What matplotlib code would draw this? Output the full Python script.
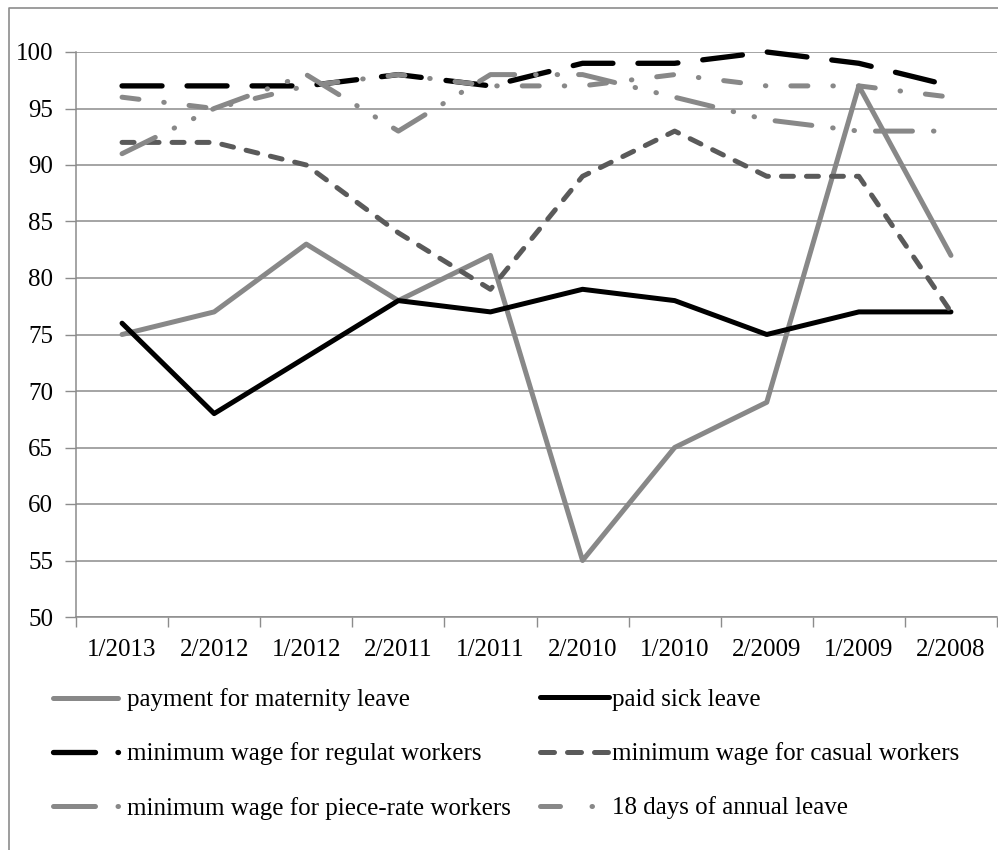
import matplotlib
matplotlib.use('Agg')
import matplotlib.pyplot as plt
from matplotlib.lines import Line2D
import numpy as np

# ---- data ----
periods = ['1/2013', '2/2012', '1/2012', '2/2011', '1/2011',
           '2/2010', '1/2010', '2/2009', '1/2009', '2/2008']
maternity = [75, 77, 83, 78, 82, 55, 65, 69, 97, 82]
sick_leave = [76, 68, 73, 78, 77, 79, 78, 75, 77, 77]
regular_wage = [97, 97, 97, 98, 97, 99, 99, 100, 99, 97]
casual_wage = [92, 92, 90, 84, 79, 89, 93, 89, 89, 77]
piece_rate_wage = [96, 95, 97, 98, 97, 97, 98, 97, 97, 96]
annual_leave = [91, 95, 98, 93, 98, 98, 96, 94, 93, 93]
series_names = ['payment for maternity leave', 'paid sick leave',
                'minimum wage for regulat workers', 'minimum wage for casual workers',
                'minimum wage for piece-rate workers', '18 days of annual leave']
y_ticks = list(range(50, 101, 5))

plt.rcParams['font.family'] = ['Liberation Serif', 'DejaVu Serif']
plt.rcParams['lines.scale_dashes'] = False

W, H = 998, 850
PT = 0.72  # points per pixel at dpi 100
FS = 18
GRID = '#8c8c8c'
GRAY = '#888888'
DARK = '#5a5a5a'

fig = plt.figure(figsize=(W / 100, H / 100), dpi=100)
ax = fig.add_axes([76 / W, 1 - 617 / H, (997 - 76) / W, (617 - 52) / H])

x = np.arange(len(periods))
lw = 5 * PT


def px(seq):
    return [v * PT for v in seq]


common = dict(solid_capstyle='round', dash_capstyle='round',
              solid_joinstyle='round', dash_joinstyle='round', clip_on=False)

ax.plot(x, maternity, color=GRAY, lw=lw, zorder=3, **common)
ax.plot(x, sick_leave, color='#000000', lw=lw, zorder=4, **common)
ax.plot(x, regular_wage, color='#000000', lw=5.3 * PT, zorder=5,
        dashes=px([40, 25]), **common)
ax.plot(x, casual_wage, color=DARK, lw=lw, zorder=6,
        dashes=px([12, 13]), **common)
ax.plot(x, piece_rate_wage, color=GRAY, lw=lw, zorder=7,
        dashes=px([17, 25, 0.5, 25]), **common)
ax.plot(x, annual_leave, color=GRAY, lw=lw, zorder=8,
        dashes=px([37, 21, 0.5, 21, 0.5, 21]), **common)

ax.set_xlim(-0.5, len(periods) - 0.5)
ax.set_ylim(50, 100)
ax.set_yticks(y_ticks)
ax.set_xticks(np.arange(-0.5, len(periods), 1))
ax.set_xticklabels([])
ax.set_xticks(x, minor=True)
ax.set_xticklabels(periods, minor=True)
ax.tick_params(axis='x', which='major', length=7, width=1, color=GRID, direction='out')
ax.tick_params(axis='x', which='minor', length=0, pad=16, labelsize=FS)
ax.tick_params(axis='y', length=8, width=1, color=GRID, direction='out', pad=8.5,
               labelsize=FS)
ax.grid(axis='y', color=GRID, lw=1.1)
ax.set_axisbelow(True)
for s in ['top', 'right']:
    ax.spines[s].set_visible(False)
for s in ['left', 'bottom']:
    ax.spines[s].set_color(GRID)
    ax.spines[s].set_linewidth(1.1)

# ---- legend (proxy handles reproduce the legend samples) ----
lc = dict(solid_capstyle='round', dash_capstyle='round')
h_mat = Line2D([], [], color=GRAY, lw=lw, **lc)
h_sick = Line2D([], [], color='#000000', lw=lw, **lc)
h_reg = Line2D([], [], color='#000000', lw=5.3 * PT, dashes=px([42, 22.5, 0.5, 100]), **lc)
h_cas = Line2D([], [], color=DARK, lw=lw, dashes=px([14, 13]), **lc)
h_pie = Line2D([], [], color=GRAY, lw=lw, dashes=px([42, 22.5, 0.5, 100]), **lc)
h_ann = Line2D([], [], color=GRAY, lw=lw, dashes=px([20, 31.5, 0.5, 19.5, 0.5, 100]), **lc)

fpx = FS / PT
leg_kw = dict(loc='center left', frameon=False, borderpad=0, borderaxespad=0,
              fontsize=FS, labelspacing=1.25)
leg1 = fig.legend(handles=[h_mat, h_reg, h_pie],
                  labels=[series_names[0], series_names[2], series_names[4]],
                  bbox_to_anchor=(52.5 / W, 1 - 754 / H),
                  handlelength=65.5 / fpx, handletextpad=9 / fpx, **leg_kw)
leg2 = fig.legend(handles=[h_sick, h_cas, h_ann],
                  labels=[series_names[1], series_names[3], series_names[5]],
                  bbox_to_anchor=(539.5 / W, 1 - 754 / H),
                  handlelength=69 / fpx, handletextpad=4 / fpx, **leg_kw)

# ---- chart area border (left and top edges visible) ----
fig.add_artist(Line2D([9 / W, 9 / W, 1.0], [0.0, 1 - 8 / H, 1 - 8 / H],
                      transform=fig.transFigure, color=GRID, lw=1.2))

fig.savefig('out.png', dpi=100)
